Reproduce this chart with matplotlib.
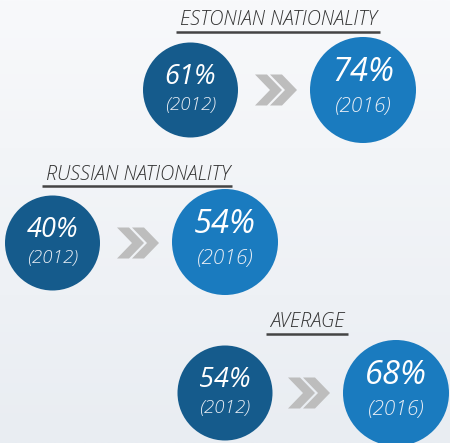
import matplotlib
matplotlib.use("Agg")
import matplotlib.pyplot as plt
from matplotlib.patches import Circle, Polygon
from matplotlib.colors import LinearSegmentedColormap
import numpy as np

groups = ["ESTONIAN NATIONALITY", "RUSSIAN NATIONALITY", "AVERAGE"]
v2012 = [61, 40, 54]
v2016 = [74, 54, 68]
year_labels = ["(2012)", "(2016)"]

# layout (pixel coordinates)
title_pos = [(278, 20), (138, 175), (307, 322)]
underline = [(176, 380, 32), (42, 232, 186), (266, 348, 334)]
c1_pos = [(190.5, 90), (52.5, 243), (225, 393)]
c2_pos = [(363, 90), (225, 242), (396, 393)]
chev_x = [255, 117, 288]

DARK = "#155b8c"
LIGHT = "#1a7bbf"
CHEV = "#bdbdbd"
FONT = "Open Sans"

W, H = 450, 443
fig = plt.figure(figsize=(4.5, 4.43), dpi=100)
ax = fig.add_axes([0, 0, 1, 1])
ax.set_xlim(0, W)
ax.set_ylim(H, 0)
ax.axis("off")

# background gradient
grad = np.linspace(0, 1, 256).reshape(-1, 1)
cmap = LinearSegmentedColormap.from_list("bg", ["#f8f9fb", "#e9edf2"])
ax.imshow(grad, extent=[0, W, H, 0], cmap=cmap, aspect="auto", zorder=0)

def chevrons(x0, yc):
    h = 31
    t = 12
    k = 15
    for off in (0, 15):
        xa = x0 + off
        pts = [(xa, yc - h / 2), (xa + t, yc - h / 2), (xa + t + k, yc),
               (xa + t, yc + h / 2), (xa, yc + h / 2), (xa + k, yc)]
        ax.add_patch(Polygon(pts, closed=True, color=CHEV, zorder=2, lw=0))

for i, g in enumerate(groups):
    tx, ty = title_pos[i]
    ax.text(tx, ty, g, ha="center", va="center", fontsize=14.2, color="#333333",
            family=FONT, style="italic", fontweight="light", zorder=3)
    ux0, ux1, uy = underline[i]
    ax.plot([ux0, ux1], [uy, uy], color="#444444", lw=1.8, zorder=3,
            solid_capstyle="butt")

    x1, y1 = c1_pos[i]
    ax.add_patch(Circle((x1, y1), 47.5, color=DARK, zorder=2, lw=0))
    ax.text(x1, y1 - 13, f"{v2012[i]}%", ha="center", va="center", fontsize=19.5,
            color="white", family=FONT, style="italic", fontweight="normal", zorder=3)
    ax.text(x1, y1 + 15, year_labels[0], ha="center", va="center", fontsize=13.5,
            color="#e8eef5", family=FONT, style="italic", fontweight="light", zorder=3)

    x2, y2 = c2_pos[i]
    ax.add_patch(Circle((x2, y2), 53, color=LIGHT, zorder=2, lw=0))
    ax.text(x2, y2 - 18, f"{v2016[i]}%", ha="center", va="center", fontsize=23.5,
            color="white", family=FONT, style="italic", fontweight="normal", zorder=3)
    ax.text(x2, y2 + 17, year_labels[1], ha="center", va="center", fontsize=15,
            color="#e8eef5", family=FONT, style="italic", fontweight="light", zorder=3)

    chevrons(chev_x[i], y1)

fig.savefig("out.png", dpi=100)
